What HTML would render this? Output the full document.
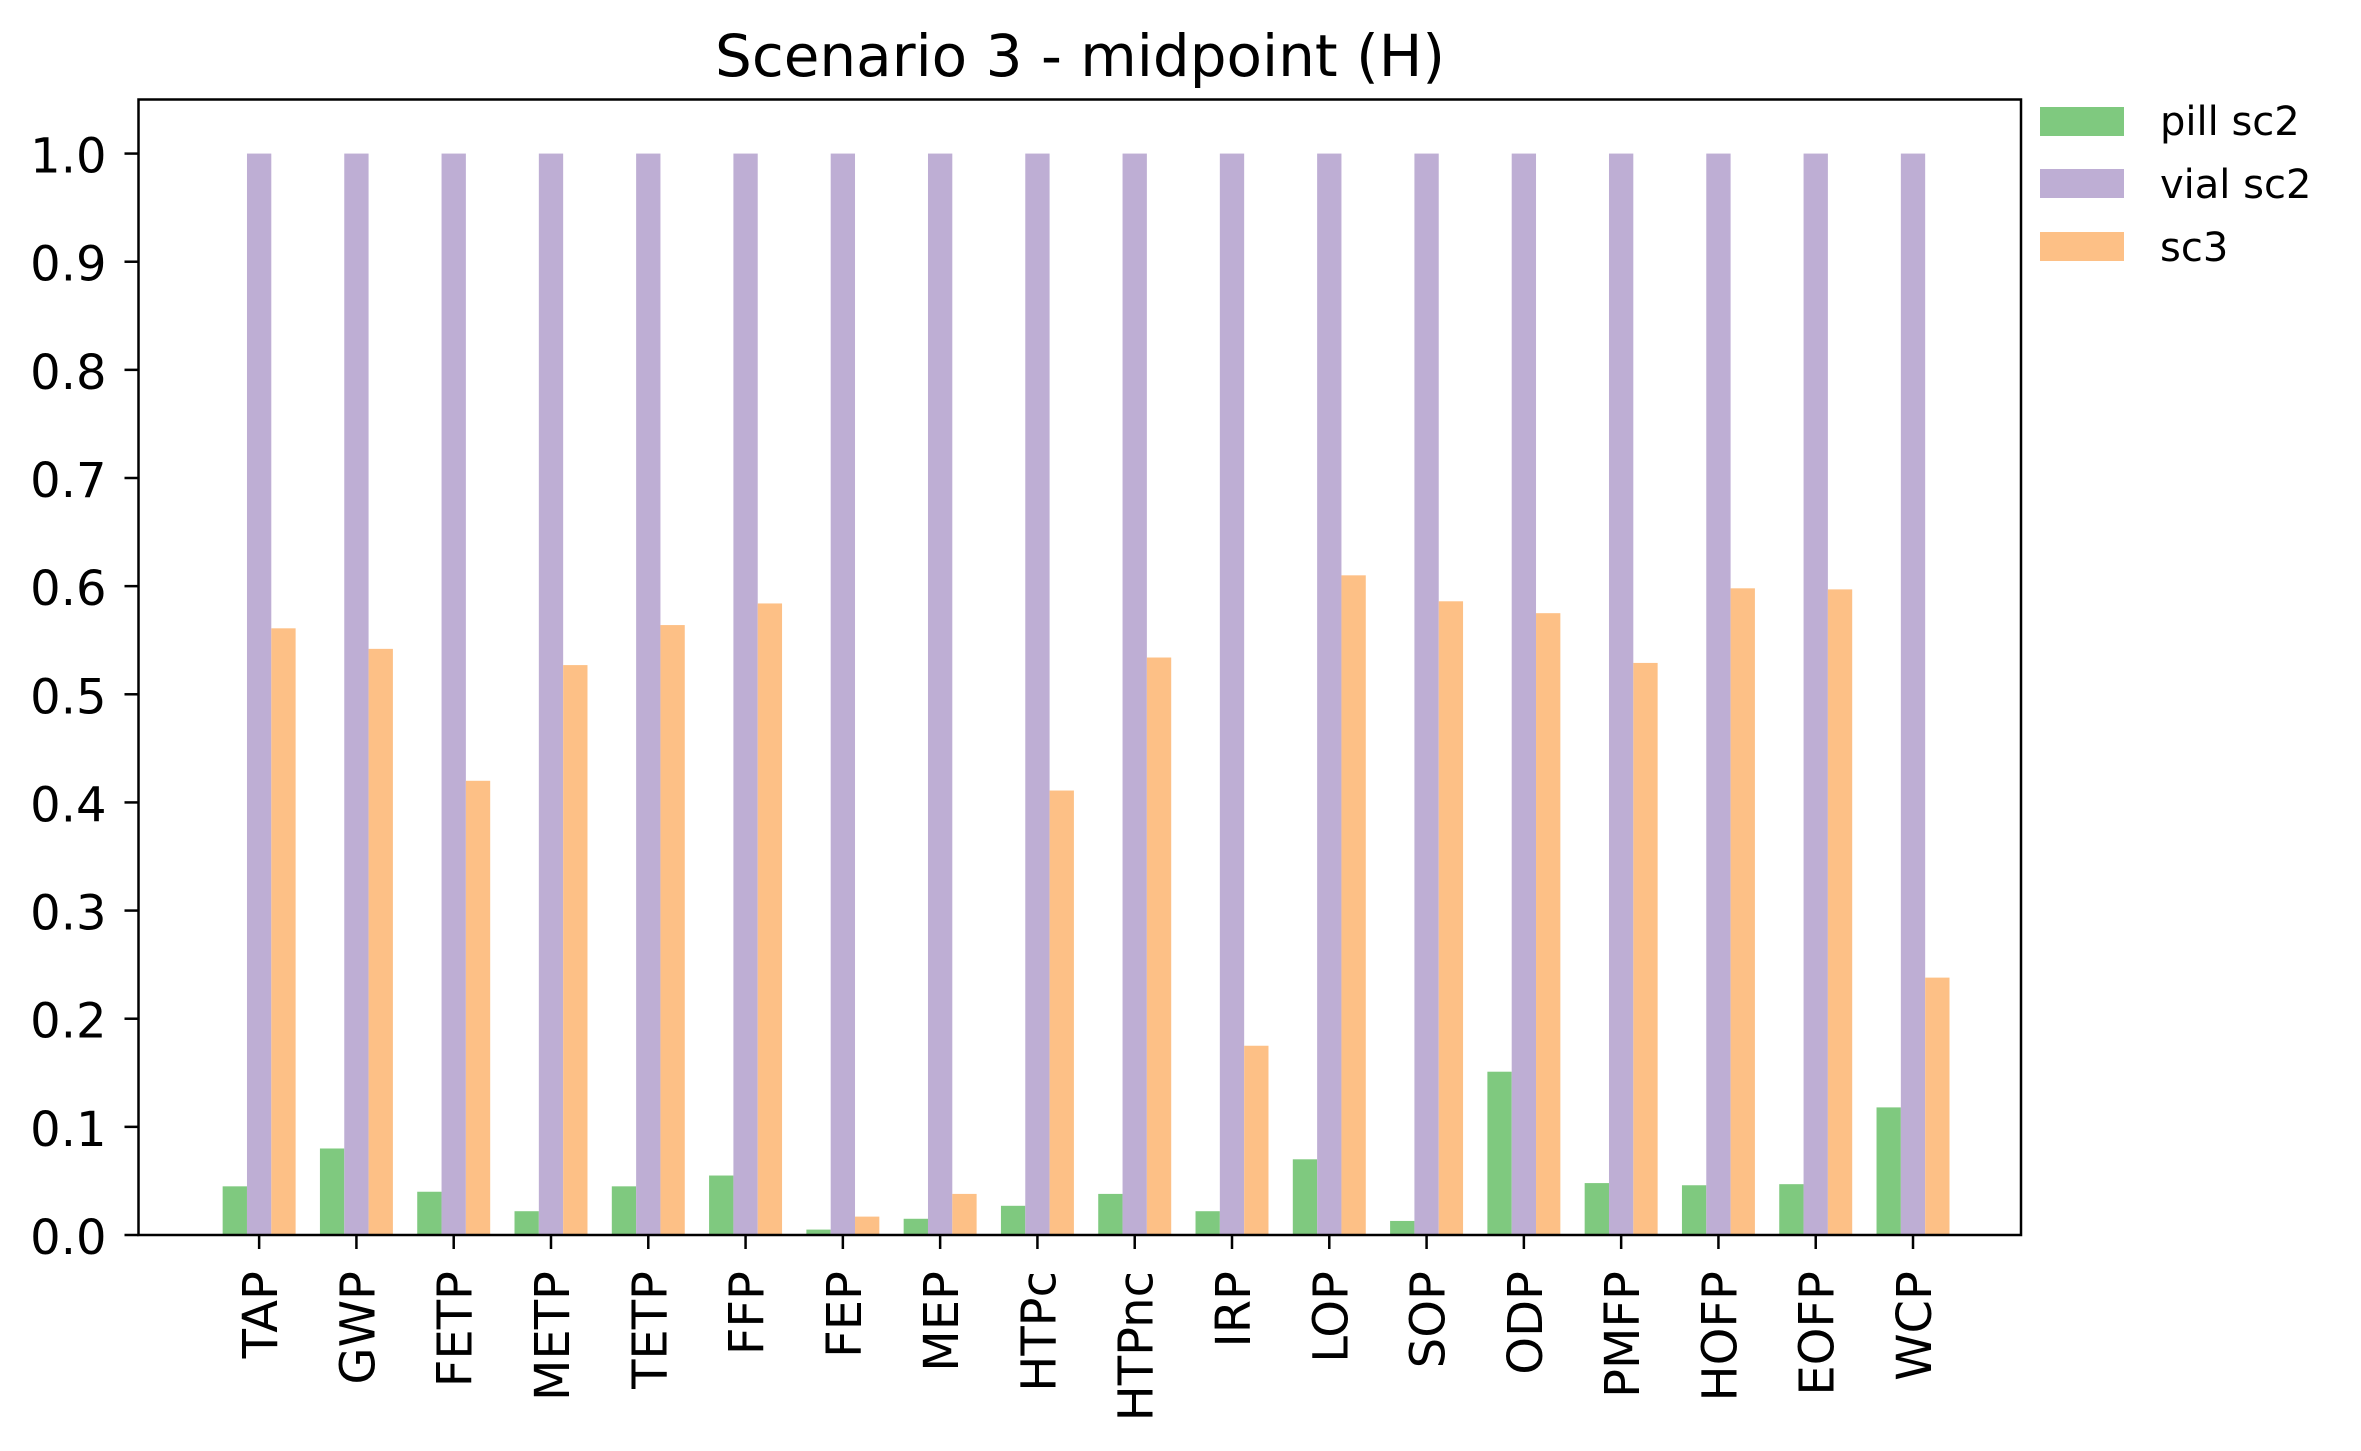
<!DOCTYPE html>
<html><head><meta charset="utf-8"><style>body{margin:0;background:#fff}svg{display:block}text{font-family:"DejaVu Sans","Liberation Sans",sans-serif;fill:#000}</style></head>
<body>
<svg id="chart" width="2361" height="1451" viewBox="0 0 2361 1451" xmlns="http://www.w3.org/2000/svg">
<text x="1080" y="76" font-size="58" text-anchor="middle">Scenario 3 - midpoint (H)</text>
<g id="plot"></g>
<rect x="138.5" y="99.5" width="1882.5" height="1135.5" fill="none" stroke="#000" stroke-width="2.5"/>
<g>
<rect x="2040" y="107" width="84" height="29" fill="#7fc97f"/>
<text x="2160" y="135" font-size="40">pill sc2</text>
<rect x="2040" y="169" width="84" height="29" fill="#beaed4"/>
<text x="2160" y="198" font-size="40">vial sc2</text>
<rect x="2040" y="232" width="84" height="29" fill="#fdc086"/>
<text x="2160" y="261" font-size="40">sc3</text>
</g>
</svg>
<script>
const categories=["TAP","GWP","FETP","METP","TETP","FFP","FEP","MEP","HTPc","HTPnc","IRP","LOP","SOP","ODP","PMFP","HOFP","EOFP","WCP"];
const pillSc2=[0.045,0.08,0.04,0.022,0.045,0.055,0.005,0.015,0.027,0.038,0.022,0.07,0.013,0.151,0.048,0.046,0.047,0.118];
const vialSc2=[1,1,1,1,1,1,1,1,1,1,1,1,1,1,1,1,1,1];
const sc3=[0.561,0.542,0.42,0.527,0.564,0.584,0.017,0.038,0.411,0.534,0.175,0.61,0.586,0.575,0.529,0.598,0.597,0.238];
const yTicks=[0,0.1,0.2,0.3,0.4,0.5,0.6,0.7,0.8,0.9,1.0];
const NS="http://www.w3.org/2000/svg";
const g=document.getElementById('plot');
const xL=138.5,xR=2021,yB=1235,yT=99.5;
const n=categories.length;
const xmin=-1.24,xmax=(n-1)+1.11;
function xs(v){return xL+(v-xmin)/(xmax-xmin)*(xR-xL);}
function ys(v){return yB-(v/1.05)*(yB-yT);}
function mk(t,a){const e=document.createElementNS(NS,t);for(const k in a)e.setAttribute(k,a[k]);g.appendChild(e);return e;}
const bw=0.25;
const series=[[pillSc2,"#7fc97f",-bw,"pill-sc2"],[vialSc2,"#beaed4",0,"vial-sc2"],[sc3,"#fdc086",bw,"sc3"]];
series.forEach(s=>{
  s[0].forEach((v,i)=>{
    const x0=xs(i+s[2]-bw/2),x1=xs(i+s[2]+bw/2);
    const r=mk('rect',{x:x0,y:ys(v),width:x1-x0,height:ys(0)-ys(v),fill:s[1]});
    
    
  });
});
yTicks.forEach(t=>{
  const y=ys(t);
  const l=mk('line',{x1:xL-14,x2:xL,y1:y,y2:y,stroke:'#000','stroke-width':2.5});
  
  
  const tx=mk('text',{x:xL-32,y:y+19,'font-size':48,'text-anchor':'end'});
  tx.textContent=t.toFixed(1);
  
  
});
categories.forEach((c,i)=>{
  const x=xs(i);
  const l=mk('line',{x1:x,x2:x,y1:yB,y2:yB+14,stroke:'#000','stroke-width':2.5});
  
  
  const tx=mk('text',{x:0,y:0,'font-size':48,'text-anchor':'end',transform:`translate(${x+18},${yB+36}) rotate(-90)`});
  tx.textContent=c;
  
  
});
</script>
</body></html>
